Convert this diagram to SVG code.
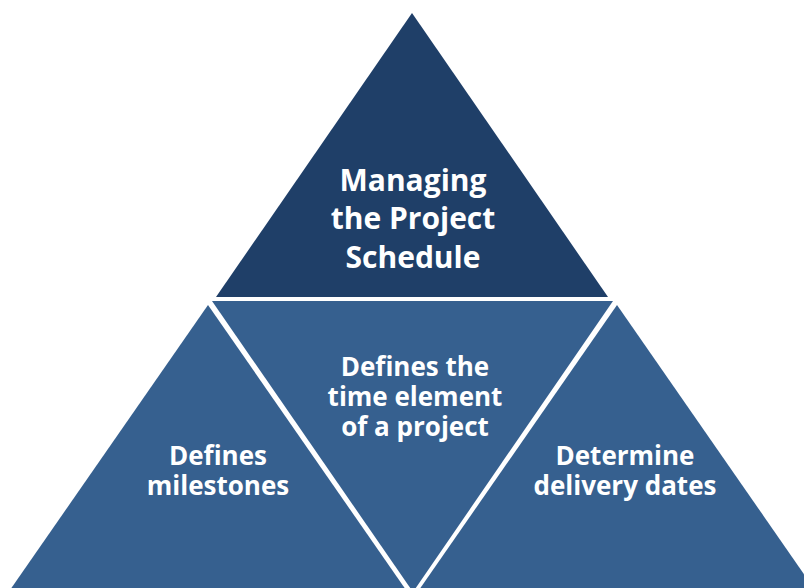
<svg xmlns="http://www.w3.org/2000/svg" width="804" height="588" viewBox="0 0 804 588">
<style>
.dark{fill:#1F3F68;}
.mid{fill:#36608F;}
.t{font-family:"Open Sans","Liberation Sans",sans-serif;font-weight:bold;fill:#FFFFFF;text-anchor:middle;font-variant-ligatures:none;}
.big{font-size:30px;}
.sm{font-size:26px;}
</style>
<rect width="804" height="588" fill="#FFFFFF"/>
<g id="top">
<polygon class="dark" points="412,13 216,297 608,297"/>
<text class="t big" x="413" y="191">Managing</text>
<text class="t big" x="413" y="229">the Project</text>
<text class="t big" x="413" y="268">Schedule</text>
</g>
<g id="middle">
<polygon class="mid" points="212,301 613,301 413,592"/>
<text class="t sm" x="415" y="376">Defines the</text>
<text class="t sm" x="415" y="406">time element</text>
<text class="t sm" x="415" y="436">of a project</text>
</g>
<g id="left">
<polygon class="mid" points="208,305 10,590 406,590"/>
<text class="t sm" x="218" y="465">Defines</text>
<text class="t sm" x="218" y="495">milestones</text>
</g>
<g id="right">
<polygon class="mid" points="617,305 419,590 815,590"/>
<text class="t sm" x="625" y="465">Determine</text>
<text class="t sm" x="625" y="495">delivery dates</text>
</g>
<g id="connectors"></g>
</svg>
